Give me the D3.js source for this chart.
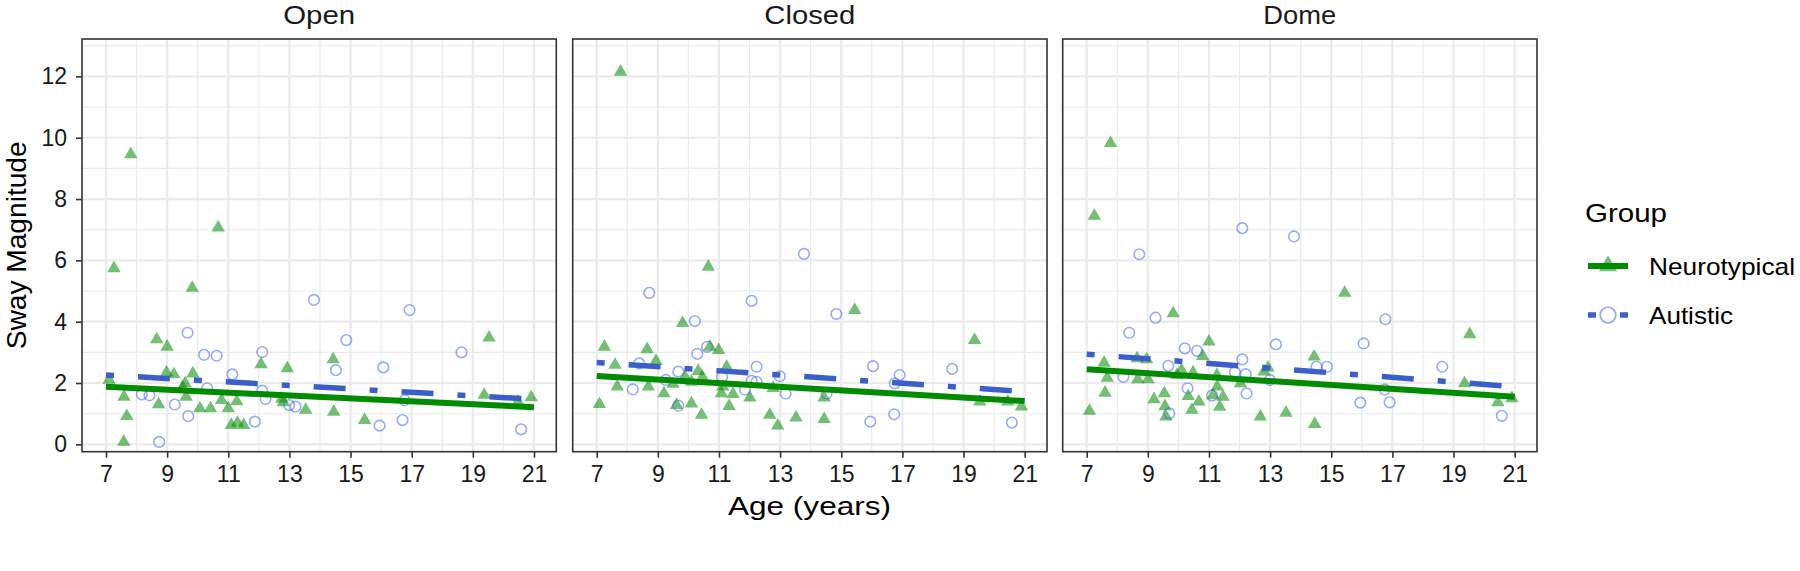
<!DOCTYPE html>
<html>
<head>
<meta charset="utf-8">
<script src="https://cdn.jsdelivr.net/npm/d3@7"></script>
<style>
  html, body { margin: 0; padding: 0; background: #fff; }
  svg text { font-family: "Liberation Sans", Arial, Helvetica, sans-serif; }
</style>
</head>
<body>
<svg id="chart" width="1800" height="571"></svg>
<script>
// ---------------- DATA ----------------
const panels = ["Open", "Closed", "Dome"];
const groups = ["Neurotypical", "Autistic"];
const xTicks = [7, 9, 11, 13, 15, 17, 19, 21];
const yTicks = [0, 2, 4, 6, 8, 10, 12];

// [age, sway magnitude]
const openNeurotypical = [
  [7.81,9.46],[7.26,5.74],[10.67,7.07],[9.82,5.10],[8.66,3.42],[9.0,3.18],[8.98,2.34],[9.22,2.28],
  [9.84,2.31],[9.59,1.99],[9.51,1.85],[9.62,1.55],[7.1,2.1],[7.59,1.55],[7.68,0.92],[7.58,0.08],
  [8.72,1.30],[10.07,1.17],[10.42,1.17],[10.78,1.44],[11.0,1.17],[11.28,1.40],[11.1,0.63],[11.3,0.70],
  [11.5,0.63],[12.07,2.61],[12.93,2.48],[12.75,1.48],[12.8,1.37],[13.53,1.12],[14.43,2.77],[14.45,1.06],
  [15.46,0.79],[19.53,3.48],[19.37,1.61],[20.48,1.39],[20.91,1.53]
];
const openAutistic = [
  [13.8,4.71],[9.67,3.64],[10.21,2.92],[10.62,2.89],[12.11,3.01],[11.13,2.28],[8.17,1.63],[8.42,1.60],
  [10.31,1.83],[9.25,1.30],[9.69,0.92],[8.74,0.08],[12.11,1.75],[12.22,1.48],[11.87,0.74],[12.99,1.28],
  [13.2,1.23],[16.93,4.38],[14.86,3.40],[18.63,3.0],[14.52,2.42],[16.07,2.51],[16.77,1.44],[16.7,0.79],
  [15.95,0.61],[20.58,0.49]
];
const closedNeurotypical = [
  [7.78,12.15],[10.65,5.79],[9.81,3.95],[15.44,4.38],[7.25,3.18],[8.65,3.10],[8.94,2.72],[7.6,2.59],
  [10.7,3.18],[10.99,3.07],[11.25,2.53],[10.32,2.39],[10.46,2.20],[9.89,2.20],[10.1,2.04],[9.5,1.97],
  [8.69,1.88],[7.67,1.88],[9.2,1.66],[7.09,1.31],[9.61,1.28],[10.1,1.33],[10.43,0.96],[11.08,1.66],
  [11.12,1.88],[11.46,1.64],[11.33,1.25],[12.01,1.52],[12.77,1.83],[12.66,0.96],[12.92,0.61],[13.52,0.87],
  [14.44,1.52],[14.44,0.82],[19.36,3.40],[19.53,1.39],[20.45,1.39],[20.89,1.23]
];
const closedAutistic = [
  [13.78,6.21],[8.72,4.94],[12.07,4.68],[14.84,4.25],[10.21,4.02],[10.61,3.18],[10.29,2.95],[8.39,2.64],
  [12.23,2.53],[9.67,2.37],[11.1,2.20],[12.99,2.22],[9.26,2.10],[12.07,2.07],[12.23,2.04],[8.18,1.79],
  [11.85,1.79],[13.18,1.66],[9.67,1.26],[14.52,1.66],[16.04,2.55],[16.91,2.26],[16.75,1.99],[18.63,2.46],
  [16.73,0.98],[15.95,0.74],[20.58,0.71]
];
const domeNeurotypical = [
  [7.78,9.82],[7.25,7.45],[9.83,4.27],[15.44,4.94],[11.0,3.35],[8.65,2.80],[8.96,2.77],[7.57,2.66],
  [10.79,2.88],[10.1,2.42],[10.48,2.34],[9.95,2.26],[11.26,2.26],[7.67,2.17],[8.67,2.12],[9.01,2.12],
  [11.27,1.88],[12.03,1.99],[7.6,1.68],[9.54,1.66],[9.2,1.47],[10.32,1.57],[11.46,1.55],[11.13,1.60],
  [9.56,1.24],[9.59,0.90],[10.67,1.39],[10.44,1.12],[11.35,1.22],[7.09,1.09],[12.68,0.90],[12.93,2.50],
  [12.8,2.37],[13.52,1.03],[14.44,2.86],[14.46,0.66],[19.53,3.59],[19.36,1.99],[20.45,1.37],[20.91,1.50]
];
const domeAutistic = [
  [12.09,7.05],[13.78,6.78],[8.72,6.20],[9.25,4.13],[8.39,3.64],[13.19,3.26],[10.21,3.13],[10.61,3.05],
  [12.09,2.77],[9.67,2.56],[14.52,2.53],[14.86,2.53],[11.85,2.35],[12.2,2.29],[8.2,2.20],[12.99,2.10],
  [10.3,1.83],[12.23,1.66],[11.1,1.59],[9.7,1.01],[16.77,4.08],[16.06,3.29],[18.63,2.53],[16.75,1.79],
  [15.95,1.36],[16.91,1.37],[20.58,0.93]
];

// fitted trend lines [age, fitted sway]
const openNeurotypicalFit = [[7, 1.88], [21, 1.21]];
const openAutisticFit = [[7, 2.26], [21, 1.47]];
const closedNeurotypicalFit = [[7, 2.23], [21, 1.41]];
const closedAutisticFit = [[7, 2.67], [21, 1.72]];
const domeNeurotypicalFit = [[7, 2.45], [21, 1.55]];
const domeAutisticFit = [[7, 2.94], [21, 1.88]];

const pointData = {
  Open: { Neurotypical: openNeurotypical, Autistic: openAutistic },
  Closed: { Neurotypical: closedNeurotypical, Autistic: closedAutistic },
  Dome: { Neurotypical: domeNeurotypical, Autistic: domeAutistic }
};
const fitData = {
  Open: { Neurotypical: openNeurotypicalFit, Autistic: openAutisticFit },
  Closed: { Neurotypical: closedNeurotypicalFit, Autistic: closedAutisticFit },
  Dome: { Neurotypical: domeNeurotypicalFit, Autistic: domeAutisticFit }
};

// ---------------- STYLE / LAYOUT ----------------
const panelLefts = [82, 572.7, 1062.7];
const panelW = 474.3;
const panelTop = 39, panelBottom = 451.7;
const xDomain = [6.215, 21.73];
const yDomain = [-0.24, 13.22];
const stripWidths = { Open: 72, Closed: 91, Dome: 73 };   // rendered text widths in the reference
const legendWidths = { Neurotypical: 146, Autistic: 84 };

const greenLine = "#008B00", greenPt = "#008B00";
const blueLine = "#3A5FCD", bluePt = "#4169E1";
const gridCol = "#EBEBEB";
const tickFont = 23;

const svg = d3.select("#chart");
const y = d3.scaleLinear().domain(yDomain).range([panelBottom, panelTop]);
const triangle = d3.symbol().type(d3.symbolTriangle).size(78);
const bigTriangle = d3.symbol().type(d3.symbolTriangle).size(150);
const lineGen = (xs) => d3.line().x(d => xs(d[0])).y(d => y(d[1]));

panels.forEach((p, i) => {
  const left = panelLefts[i];
  const x = d3.scaleLinear().domain(xDomain).range([left, left + panelW]);
  const g = svg.append("g");

  g.append("rect").attr("x", left).attr("y", panelTop).attr("width", panelW)
    .attr("height", panelBottom - panelTop).attr("fill", "#fff");

  // minor grid
  const xMinor = d3.range(8, 21, 2);
  const yMinor = d3.range(1, 14, 2).filter(v => v <= yDomain[1]);
  g.selectAll(".xmin").data(xMinor).join("line")
    .attr("x1", d => x(d)).attr("x2", d => x(d)).attr("y1", panelTop).attr("y2", panelBottom)
    .attr("stroke", gridCol).attr("stroke-width", 1.1);
  g.selectAll(".ymin").data(yMinor).join("line")
    .attr("x1", left).attr("x2", left + panelW).attr("y1", d => y(d)).attr("y2", d => y(d))
    .attr("stroke", gridCol).attr("stroke-width", 1.1);
  // major grid
  g.selectAll(".xmaj").data(xTicks).join("line")
    .attr("x1", d => x(d)).attr("x2", d => x(d)).attr("y1", panelTop).attr("y2", panelBottom)
    .attr("stroke", gridCol).attr("stroke-width", 2.2);
  g.selectAll(".ymaj").data(yTicks).join("line")
    .attr("x1", left).attr("x2", left + panelW).attr("y1", d => y(d)).attr("y2", d => y(d))
    .attr("stroke", gridCol).attr("stroke-width", 2.2);

  // points
  g.selectAll(".tri").data(pointData[p].Neurotypical).join("path")
    .attr("d", triangle)
    .attr("transform", d => `translate(${x(d[0])},${y(d[1])})`)
    .attr("fill", greenPt).attr("fill-opacity", 0.55);
  g.selectAll(".circ").data(pointData[p].Autistic).join("circle")
    .attr("cx", d => x(d[0])).attr("cy", d => y(d[1])).attr("r", 5.3)
    .attr("fill", "none").attr("stroke", bluePt).attr("stroke-opacity", 0.55).attr("stroke-width", 1.6);

  // fit lines
  g.append("path").datum(fitData[p].Neurotypical).attr("d", lineGen(x))
    .attr("fill", "none").attr("stroke", greenLine).attr("stroke-width", 6);
  g.append("path").datum(fitData[p].Autistic).attr("d", lineGen(x))
    .attr("fill", "none").attr("stroke", blueLine).attr("stroke-width", 5.5)
    .attr("stroke-dasharray", "8,24,32,24");

  // border
  g.append("rect").attr("x", left).attr("y", panelTop).attr("width", panelW)
    .attr("height", panelBottom - panelTop).attr("fill", "none")
    .attr("stroke", "#333").attr("stroke-width", 1.6);

  // x axis
  const xa = svg.append("g").attr("transform", `translate(0,${panelBottom})`)
    .call(d3.axisBottom(x).tickValues(xTicks).tickSize(6).tickPadding(8).tickFormat(d3.format("d")));
  xa.select(".domain").remove();
  xa.selectAll("line").attr("stroke", "#333").attr("stroke-width", 1.6);
  xa.selectAll("text").attr("font-size", tickFont).attr("fill", "#1a1a1a")
    .attr("font-family", "'Liberation Sans', Arial, sans-serif");

  // strip label
  svg.append("text").attr("x", left + panelW / 2).attr("y", 24)
    .attr("text-anchor", "middle").attr("font-size", 25).attr("fill", "#1a1a1a")
    .attr("textLength", stripWidths[p]).attr("lengthAdjust", "spacingAndGlyphs").text(p);
});

// y axis (left panel only)
const ya = svg.append("g").attr("transform", `translate(${panelLefts[0]},0)`)
  .call(d3.axisLeft(y).tickValues(yTicks).tickSize(6).tickPadding(9).tickFormat(d3.format("d")));
ya.select(".domain").remove();
ya.selectAll("line").attr("stroke", "#333").attr("stroke-width", 1.6);
ya.selectAll("text").attr("font-size", tickFont).attr("fill", "#1a1a1a")
  .attr("font-family", "'Liberation Sans', Arial, sans-serif");

// axis titles
svg.append("text").attr("transform", `translate(26,${(panelTop + panelBottom) / 2}) rotate(-90)`)
  .attr("text-anchor", "middle").attr("font-size", 27).attr("fill", "#000")
  .attr("textLength", 208).attr("lengthAdjust", "spacingAndGlyphs").text("Sway Magnitude");
svg.append("text").attr("x", (panelLefts[0] + panelLefts[2] + panelW) / 2).attr("y", 515)
  .attr("text-anchor", "middle").attr("font-size", 26).attr("fill", "#000")
  .attr("textLength", 163).attr("lengthAdjust", "spacingAndGlyphs").text("Age (years)");

// legend
const lg = svg.append("g");
lg.append("text").attr("x", 1585).attr("y", 222).attr("font-size", 26).attr("fill", "#000")
  .attr("textLength", 82).attr("lengthAdjust", "spacingAndGlyphs").text("Group");
const legendRows = [266, 315];
groups.forEach((name, k) => {
  const ly = legendRows[k];
  if (name === "Neurotypical") {
    lg.append("path").attr("d", bigTriangle).attr("transform", `translate(1608,${ly})`)
      .attr("fill", greenPt).attr("fill-opacity", 0.55);
    lg.append("line").attr("x1", 1588).attr("x2", 1628).attr("y1", ly).attr("y2", ly)
      .attr("stroke", greenLine).attr("stroke-width", 6);
  } else {
    lg.append("circle").attr("cx", 1608).attr("cy", ly).attr("r", 7.8)
      .attr("fill", "none").attr("stroke", bluePt).attr("stroke-opacity", 0.55).attr("stroke-width", 1.8);
    lg.append("line").attr("x1", 1588).attr("x2", 1628).attr("y1", ly).attr("y2", ly)
      .attr("stroke", blueLine).attr("stroke-width", 5.5).attr("stroke-dasharray", "8,24,32,24");
  }
  lg.append("text").attr("x", 1649).attr("y", ly).attr("dy", "0.37em")
    .attr("font-size", 24).attr("fill", "#000")
    .attr("textLength", legendWidths[name]).attr("lengthAdjust", "spacingAndGlyphs").text(name);
});
</script>
</body>
</html>
